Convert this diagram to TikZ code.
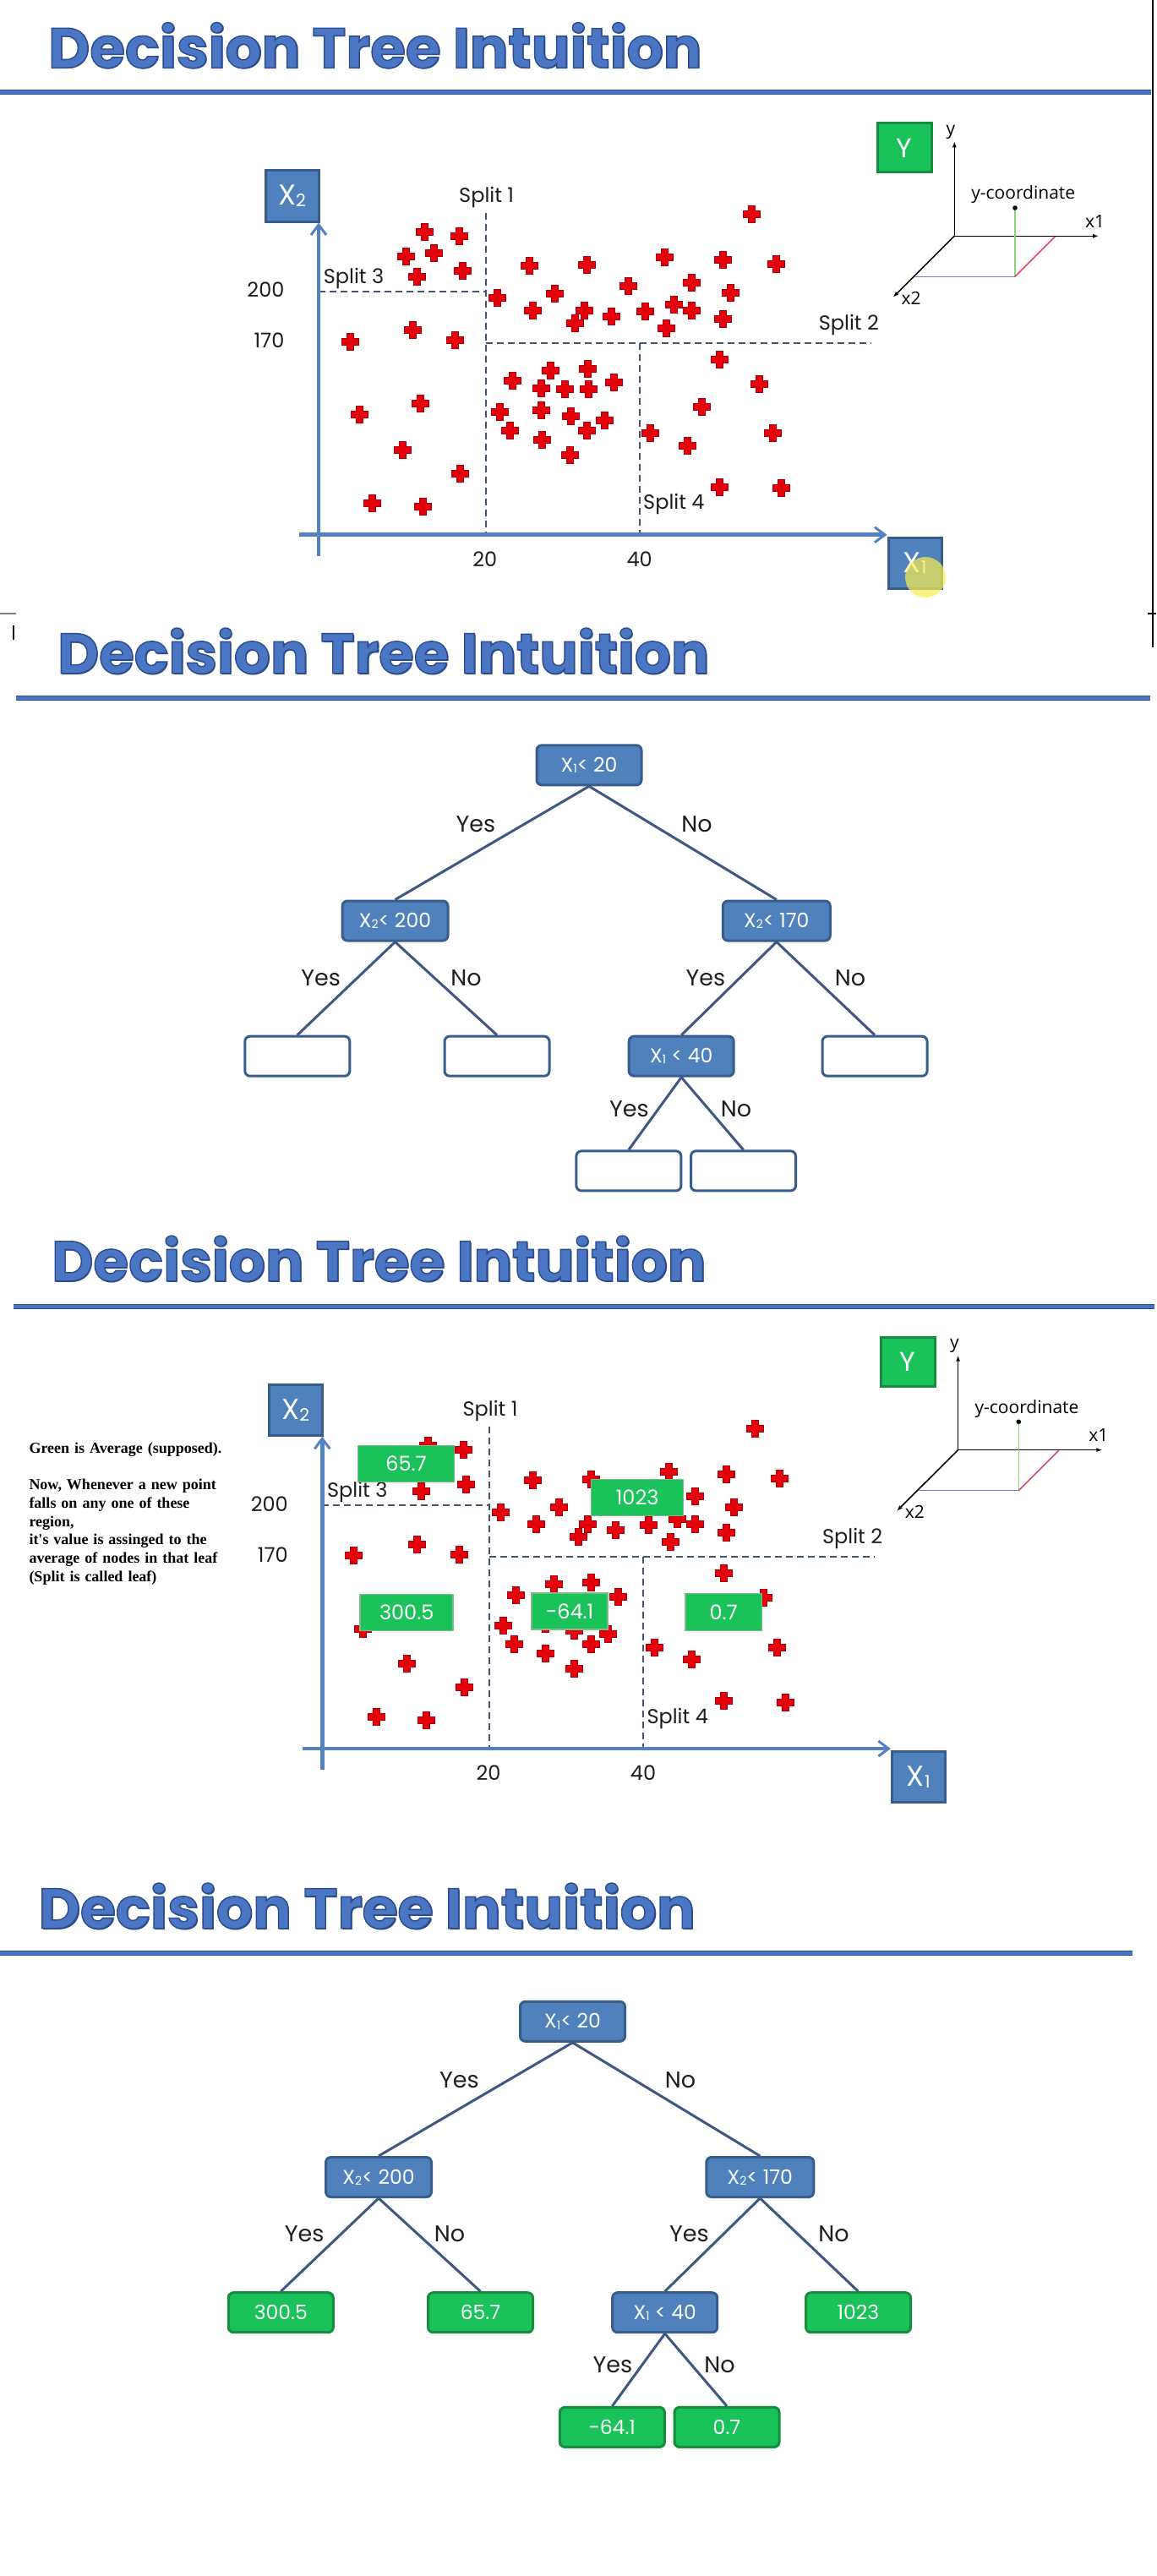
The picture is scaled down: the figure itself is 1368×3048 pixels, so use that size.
\documentclass[tikz,border=0pt]{standalone}
\usepackage{fontspec}
\usepackage{graphicx}
\usetikzlibrary{arrows.meta}
\setmainfont{Poppins}
\newfontfamily\insetfont{Open Sans}
\newfontfamily\notefont{Liberation Serif}

\definecolor{boxblue}{RGB}{79,129,189}
\definecolor{boxedge}{RGB}{56,93,138}
\definecolor{axisblue}{RGB}{84,130,192}
\definecolor{splitgray}{RGB}{68,84,110}
\definecolor{edgeblue}{RGB}{62,88,130}
\definecolor{leafgreen}{RGB}{26,194,90}
\definecolor{leafedge}{RGB}{21,140,62}
\definecolor{valueedge}{RGB}{130,184,140}
\definecolor{crossred}{RGB}{230,0,12}
\definecolor{crossedge}{RGB}{170,0,10}
\definecolor{titleblue}{RGB}{74,118,196}
\definecolor{titleshade}{RGB}{40,72,140}
\definecolor{ruleblue}{RGB}{72,114,196}
\definecolor{ruleedge}{RGB}{47,82,143}
\definecolor{textdark}{RGB}{30,30,30}
\definecolor{cursoryellow}{RGB}{250,240,80}
\definecolor{insetgreen}{RGB}{140,214,120}
\definecolor{insetblue}{RGB}{120,120,220}
\definecolor{insetred}{RGB}{230,70,100}

\newcommand\lowidx[1]{\raisebox{-0.05em}{\scalebox{0.6}{#1}}}
\newcommand\outlineon{\special{pdf:literal direct 2 Tr 1.4 w 0.17 0.30 0.56 RG}}
\newcommand\outlineoff{\special{pdf:literal direct 0 Tr}}

% title with its darker shade
\newcommand\slidetitle[4]{%
  \node[titletext, text=titleshade, xshift=1.6pt, yshift=-1.6pt] (#1shade) at (#2,#3)
    {\resizebox{#4pt}{\height}{Decision Tree Intuition}};
  \node[titletext] (#1) at (#2,#3)
    {\resizebox{#4pt}{\height}{\outlineon Decision Tree Intuition\outlineoff}};}

\def\crosslist{502.2/274, 543.8/279.3, 480.4/303.3, 513.8/299, 546.9/320, 493.8/327.7,
  626.3/314.7, 694.6/313.7, 786.6/304.7, 855.4/307.7, 917.9/312.7, 889.3/253.7,
  588.4/352.7, 656.7/347, 743.3/338.7, 817.9/334, 864.3/346.7, 630.4/367.3,
  691.5/367, 679.9/382, 723.7/374, 763.4/368.3, 797.3/360.7, 817.9/367.3,
  788.8/388, 855.4/377.3, 414.3/404, 488.8/390.7, 538.8/402.7, 851.8/425,
  898.7/454, 606.3/450.7, 650.9/438.3, 695.1/436, 640.6/459, 668.8/460.3,
  696.4/460.3, 726.8/452.7, 425.4/490.7, 497.3/477.7, 591.1/487.3, 640.6/485,
  675/492.7, 715.2/497, 603.6/509.3, 694.6/509.3, 641.5/520, 830.8/481.7,
  769.6/512.7, 813.8/527.3, 914.7/512.7, 476.8/532.3, 674.6/538.3, 544.6/560,
  440.6/595, 500/599, 851.8/576.3, 924.6/577.7}

% scatter plot with splits and the small 3d sketch
\newcommand\scatterpanel[3]{%
\begin{scope}[shift={(#2,#3)}]
  \node[axisbox] (#1xtwo) at (345.5,232) {X\lowidx{2}};
  \node[axisbox] (#1xone) at (1082.5,666) {X\lowidx{1}};
  \node[ybox] (#1ybox) at (1070,175) {Y};
  \coordinate (#1ybot) at (377,658);
  \coordinate (#1xleft) at (354,632.7);
  % splits
  \draw[splitline] (574.5,251.7) -- (574.5,632.7);
  \draw[splitline] (377,344.7) -- (574.5,344.7);
  \draw[splitline] (574.5,406) -- (1030,406);
  \draw[splitline] (756.7,406) -- (756.7,632.7);
  \node[splitlabel, anchor=base] (#1sone) at (575.7,239.3) {Split 1};
  \node[splitlabel, anchor=base west] (#1sthree) at (382.6,335) {Split 3};
  \node[splitlabel, anchor=base west] (#1stwo) at (968.6,390) {Split 2};
  \node[splitlabel, anchor=base west] (#1sfour) at (761,602.7) {Split 4};
  % points
  \foreach \cx/\cy in \crosslist {\pic at (\cx,\cy) {plusmark};}
  % axes
  \draw[axisline] (#1ybot) -- (#1ybot |- #1xtwo.south);
  \draw[axisline] (#1xleft) -- (#1xleft -| #1xone.west);
  \node[splitlabel, anchor=base east] (#1tickA) at (336.6,351.7) {200};
  \node[splitlabel, anchor=base east] (#1tickB) at (336.6,411.7) {170};
  \node[splitlabel, anchor=base] (#1tickC) at (573.7,670) {20};
  \node[splitlabel, anchor=base] (#1tickD) at (756.7,670) {40};
  % 3d sketch
  \coordinate (#1o) at (1129.3,279.3);
  \draw[insetaxis] (#1o) -- (1129.3,167.3);
  \draw[insetaxis] (#1o) -- (1300,279.3);
  \draw[insetaxis] (#1o) -- (1056.7,351.7);
  \draw[insetgreen, line width=1.6] (1201,246) -- (1201,327.3);
  \draw[insetblue, line width=1.6] (1082.7,327.3) -- (1201,327.3);
  \draw[insetred, line width=1.6] (1201,327.3) -- (1248.3,280);
  \fill (1201,246) circle (2.8);
  \node[insetlabel, anchor=base] (#1ly) at (1125,159.3) {y};
  \node[insetlabel, anchor=base] (#1lxone) at (1295.5,269.3) {x1};
  \node[insetlabel, anchor=base] (#1lxtwo) at (1078,360) {x2};
  \node[insetlabel, anchor=base] (#1lpt) at (1210.7,236) {y-coordinate};
\end{scope}}

\begin{document}
\begin{tikzpicture}[x=1pt, y=-1pt,
  titletext/.style={anchor=base west, inner sep=0, text=titleblue,
    font=\fontsize{67}{67}\selectfont\bfseries},
  titlerule/.style={draw=ruleedge, line width=1.2, double=ruleblue, double distance=4},
  axisbox/.style={fill=boxblue, draw=boxedge, line width=3, minimum width=63,
    minimum height=60, inner sep=0, text=white, font=\fontsize{34}{34}\selectfont},
  ybox/.style={axisbox, fill=leafgreen, draw=leafedge, minimum width=64, minimum height=58,
    font=\fontsize{32}{32}\selectfont},
  axisline/.style={draw=axisblue, line width=4.5,
    -{Straight Barb[length=12pt, width=18pt, line width=3pt]}},
  splitline/.style={draw=splitgray, line width=2, dash pattern=on 8pt off 5pt},
  splitlabel/.style={inner sep=0, text=textdark, font=\fontsize{24}{24}\selectfont},
  insetaxis/.style={draw=black, line width=1.6, -{Latex[length=7pt, width=5pt]}},
  insetlabel/.style={inner sep=0, text=black, font=\insetfont\fontsize{21}{21}\selectfont},
  plusmark/.pic={\filldraw[fill=crossred, draw=crossedge, line width=0.8]
    (-4,-10) -- (4,-10) -- (4,-4) -- (10,-4) -- (10,4) -- (4,4) -- (4,10) -- (-4,10)
    -- (-4,4) -- (-10,4) -- (-10,-4) -- (-4,-4) -- cycle;},
  splitnode/.style={fill=boxblue, draw=boxedge, line width=3, rounded corners=6,
    minimum width=124, minimum height=47, inner sep=0, text=white,
    font=\fontsize{23.5}{24}\selectfont},
  emptyleaf/.style={splitnode, fill=white},
  valueleaf/.style={splitnode, fill=leafgreen, draw=leafedge},
  treeedge/.style={draw=edgeblue, line width=3},
  branchlabel/.style={inner sep=0, text=textdark, font=\fontsize{27}{27}\selectfont},
  valuebox/.style={fill=leafgreen, draw=valueedge, line width=1.5, inner sep=0,
    text=white, font=\fontsize{24}{24}\selectfont},
  notetext/.style={inner sep=0, text width=300, align=left, text=black,
    font=\notefont\bfseries\fontsize{18}{21.7}\selectfont}]
\useasboundingbox (0,0) rectangle (1368,3048);
\fill[white] (0,0) rectangle (1368,3048);

% screen capture edges
\draw[line width=1.5] (1364,0) -- (1364,766);
\draw[gray, line width=1.2] (0,726) -- (19,726);
\draw[line width=1.2] (1358,726) -- (1368,726);
\draw[line width=2.5] (16,740) -- (16,757);

% ---- slide 1: the splits
\slidetitle{titleA}{57}{80.3}{773}
\draw[titlerule] (0,109) -- (1362,109);
\scatterpanel{pa}{0}{0}
\fill[cursoryellow, opacity=0.7] (1095,683) circle (24);

% ---- slide 2: the tree
\slidetitle{titleB}{68}{796.7}{771}
\draw[titlerule] (19,825.7) -- (1361,825.7);
\node[splitnode] (t2root) at (697,905.3) {X\lowidx{1}< 20};
\node[splitnode, minimum width=125] (t2left) at (467.5,1089.5) {X\lowidx{2}< 200};
\node[splitnode, minimum width=127] (t2right) at (918.8,1089.5) {X\lowidx{2}< 170};
\node[emptyleaf] (t2la) at (351.8,1249.7) {};
\node[emptyleaf] (t2lb) at (588,1249.7) {};
\node[splitnode] (t2mid) at (806.2,1249.7) {X\lowidx{1} < 40};
\node[emptyleaf] (t2lc) at (1035,1249.7) {};
\node[emptyleaf] (t2ld) at (743.9,1385.4) {};
\node[emptyleaf] (t2le) at (879.5,1385.4) {};
\draw[treeedge] (t2root.south) -- (t2left.north);
\draw[treeedge] (t2root.south) -- (t2right.north);
\draw[treeedge] (t2left.south) -- (t2la.north);
\draw[treeedge] (t2left.south) -- (t2lb.north);
\draw[treeedge] (t2right.south) -- (t2mid.north);
\draw[treeedge] (t2right.south) -- (t2lc.north);
\draw[treeedge] (t2mid.south) -- (t2ld.north);
\draw[treeedge] (t2mid.south) -- (t2le.north);
\node[branchlabel] (t2ya) at (563,975) {Yes};
\node[branchlabel] (t2na) at (824.6,975) {No};
\node[branchlabel] (t2yb) at (379.6,1157) {Yes};
\node[branchlabel] (t2nb) at (551.5,1157) {No};
\node[branchlabel] (t2yc) at (835,1157) {Yes};
\node[branchlabel] (t2nc) at (1006,1157) {No};
\node[branchlabel] (t2yd) at (744.3,1312) {Yes};
\node[branchlabel] (t2nd) at (871,1312) {No};

% ---- slide 3: averages in the regions
\slidetitle{titleC}{61}{1515.8}{774}
\draw[titlerule] (16,1546) -- (1366,1546);
\scatterpanel{pc}{4.3}{1436.3}
\node[valuebox, minimum width=114, minimum height=42.6] (avgA) at (480.5,1732) {65.7};
\node[valuebox, minimum width=109, minimum height=42.6] (avgB) at (754.1,1772) {1023};
\node[valuebox, minimum width=110, minimum height=42.6] (avgC) at (481.2,1908) {300.5};
\node[valuebox, minimum width=90, minimum height=43] (avgD) at (674.2,1906.7) {-64.1};
\node[valuebox, minimum width=90.6, minimum height=43.6] (avgE) at (856.1,1907.5) {0.7};
\node[notetext, anchor=base west] (avgnote) at (34.3,1719.3)
  {Green is Average (supposed).\\[21.7pt]
   Now, Whenever a new point\\ falls on any one of these\\ region,\\
   it's value is assinged to the\\ average of nodes in that leaf\\ (Split is called leaf)};

% ---- slide 4: the tree with leaf values
\slidetitle{titleD}{45.4}{2281.7}{777}
\draw[titlerule] (0,2311) -- (1339.5,2311);
\begin{scope}[shift={(-19.5,1486.5)}]
\node[splitnode] (t4root) at (697,905.3) {X\lowidx{1}< 20};
\node[splitnode, minimum width=125] (t4left) at (467.5,1089.5) {X\lowidx{2}< 200};
\node[splitnode, minimum width=127] (t4right) at (918.8,1089.5) {X\lowidx{2}< 170};
\node[valueleaf] (t4la) at (351.8,1249.7) {300.5};
\node[valueleaf] (t4lb) at (588,1249.7) {65.7};
\node[splitnode] (t4mid) at (806.2,1249.7) {X\lowidx{1} < 40};
\node[valueleaf] (t4lc) at (1035,1249.7) {1023};
\node[valueleaf] (t4ld) at (743.9,1385.4) {-64.1};
\node[valueleaf] (t4le) at (879.5,1385.4) {0.7};
\draw[treeedge] (t4root.south) -- (t4left.north);
\draw[treeedge] (t4root.south) -- (t4right.north);
\draw[treeedge] (t4left.south) -- (t4la.north);
\draw[treeedge] (t4left.south) -- (t4lb.north);
\draw[treeedge] (t4right.south) -- (t4mid.north);
\draw[treeedge] (t4right.south) -- (t4lc.north);
\draw[treeedge] (t4mid.south) -- (t4ld.north);
\draw[treeedge] (t4mid.south) -- (t4le.north);
\node[branchlabel] (t4ya) at (563,975) {Yes};
\node[branchlabel] (t4na) at (824.6,975) {No};
\node[branchlabel] (t4yb) at (379.6,1157) {Yes};
\node[branchlabel] (t4nb) at (551.5,1157) {No};
\node[branchlabel] (t4yc) at (835,1157) {Yes};
\node[branchlabel] (t4nc) at (1006,1157) {No};
\node[branchlabel] (t4yd) at (744.3,1312) {Yes};
\node[branchlabel] (t4nd) at (871,1312) {No};
\end{scope}
\end{tikzpicture}
\end{document}
